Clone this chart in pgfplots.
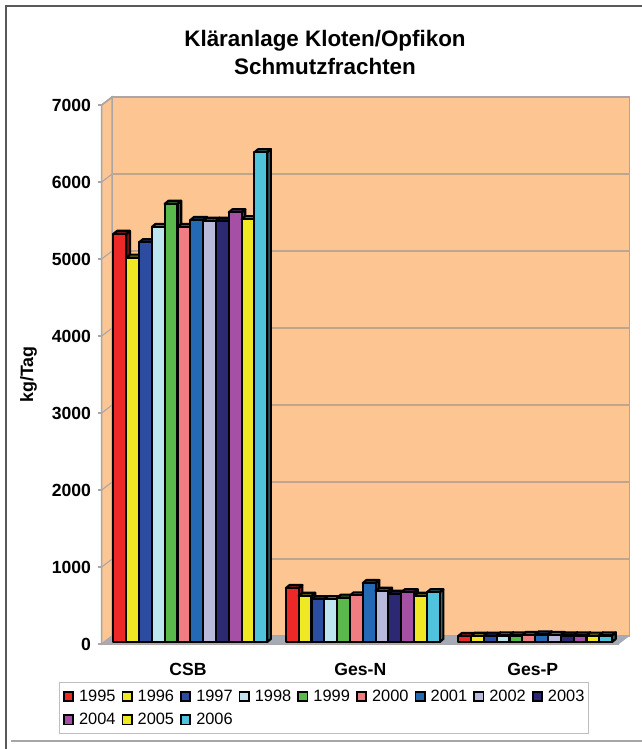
\documentclass[border=0pt]{standalone}
\usepackage{fontspec}
\setmainfont{Liberation Sans}
\usepackage{pgfplots}
\pgfplotsset{compat=1.18}

\definecolor{wall}{RGB}{252,197,146}
\definecolor{wallline}{RGB}{172,165,165}
\definecolor{gridtan}{RGB}{190,165,140}
\definecolor{floorgray}{RGB}{165,170,180}
\definecolor{c95}{RGB}{237,41,40}
\definecolor{c96}{RGB}{240,232,35}
\definecolor{c97}{RGB}{44,76,160}
\definecolor{c98}{RGB}{190,228,240}
\definecolor{c99}{RGB}{90,185,75}
\definecolor{c00}{RGB}{240,125,130}
\definecolor{c01}{RGB}{35,105,180}
\definecolor{c02}{RGB}{185,185,220}
\definecolor{c03}{RGB}{45,40,115}
\definecolor{c04}{RGB}{165,80,165}
\definecolor{c05}{RGB}{240,232,35}
\definecolor{c06}{RGB}{80,195,220}

% depth of the chart and of the bars, in axis units
\def\wdx{0.0608}\def\wdy{104}
\def\bw{0.07433}\def\bdx{0.0215}\def\bdy{40}\def\ybase{26}\def\gstart{0.068}

% one bar: left edge, value, colour (side, top, then front)
\newcommand{\barone}[3]{%
  \pgfmathsetmacro\xa{#1}%
  \pgfmathsetmacro\xb{#1+\bw}%
  \pgfmathsetmacro\xc{#1+\bw+\bdx}%
  \pgfmathsetmacro\xd{#1+\bdx}%
  \pgfmathsetmacro\yt{#2+\ybase}%
  \pgfmathsetmacro\ytt{#2+\ybase+\bdy}%
  \pgfmathsetmacro\ybb{\ybase+\bdy}%
  \edef\tmp{\noexpand\addplot[barface,fill=#3!55!black,forget plot] coordinates {(\xb,\ybase)(\xc,\ybb)(\xc,\ytt)(\xb,\yt)} --cycle;
    \noexpand\addplot[barface,fill=#3!55!black,forget plot] coordinates {(\xa,\yt)(\xd,\ytt)(\xc,\ytt)(\xb,\yt)} --cycle;
    \noexpand\addplot[barface,fill=#3,forget plot] coordinates {(\xa,\ybase)(\xb,\ybase)(\xb,\yt)(\xa,\yt)} --cycle;}%
  \tmp}
% one year: position in the group, colour, CSB, Ges-N, Ges-P
\newcommand{\yearbars}[5]{%
  \pgfmathsetmacro\xu{\gstart+#1*\bw}\barone{\xu}{#3}{#2}%
  \pgfmathsetmacro\xu{1+\gstart+#1*\bw}\barone{\xu}{#4}{#2}%
  \pgfmathsetmacro\xu{2+\gstart+#1*\bw}\barone{\xu}{#5}{#2}}
\newcommand{\gridat}[1]{%
  \pgfmathsetmacro\ya{#1+\wdy}\pgfmathsetmacro\xr{3+\wdx}%
  \edef\tmp{\noexpand\addplot[wallline,line width=0.8pt,forget plot] coordinates {(0,#1)(\wdx,\ya)};
    \noexpand\addplot[gridtan,line width=0.8pt,forget plot] coordinates {(\wdx,\ya)(\xr,\ya)};}%
  \tmp}
\newcommand{\legitem}[2]{%
  \addlegendimage{legend image code/.code={\draw[black,line width=1.3pt,fill=#1] (0pt,-3.6pt) rectangle (7pt,3.6pt);}}
  \addlegendentry{#2}}

\begin{document}
\begin{tikzpicture}[x=0.75pt,y=0.75pt]
\useasboundingbox (0,0) rectangle (642,749);
\fill[white] (0,0) rectangle (642,749);
\draw[black!65,line width=1pt] (642,743) -- (6,743) -- (6,0);
\draw[black!35,line width=0.8pt] (11,8) -- (642,8);

\begin{axis}[
  at={(76.275pt,78.75pt)},anchor=south west,
  scale only axis,
  width=387.98pt,height=404.25pt,
  xmin=0,xmax=3,ymin=0,ymax=7000,
  clip=false,
  axis y line=left,axis x line=bottom,
  axis line style={-,draw=wallline,line width=1pt},
  tick style={wallline,line width=1pt},
  major tick length=6pt,
  ytick={0,1000,2000,3000,4000,5000,6000,7000},
  xtick={0.5,1.5,2.5},
  xticklabels={CSB,Ges-N,Ges-P},
  x tick style={draw=none},
  minor xtick={0,1,2,3},
  minor x tick style={wallline,line width=1pt},
  minor tick length=6pt,
  x tick label style={yshift=-8pt},
  y tick label style={xshift=-1.5pt},
  tick label style={font=\fontsize{13.2}{14}\selectfont\bfseries},
  /pgf/number format/assume math mode=true,
  /pgf/number format/1000 sep={},
  ylabel={kg/Tag},
  ylabel style={font=\fontsize{13.4}{14}\selectfont\bfseries,at={(axis description cs:-0.116,0.5)},anchor=south},
  title={Kläranlage Kloten/Opfikon\\Schmutzfrachten},
  title style={font=\fontsize{16.8}{21}\selectfont\bfseries,align=center,at={(axis description cs:0.4317,1.0817)},anchor=center},
  barface/.style={draw=black,line width=1.6pt,line join=round},
  legend columns=9,
  legend cell align=left,
  legend style={
    at={(axis description cs:-0.0825,-0.0705)},anchor=north west,
    draw=black!25,line width=0.8pt,fill=white,
    font=\fontsize{12.3}{14}\selectfont,
    inner xsep=2.5pt,inner ysep=5pt,
    /tikz/every even column/.append style={column sep=3.9pt},
    /tikz/row sep=6.6pt,
    /tikz/column sep=3.2pt,
    nodes={inner xsep=0.6pt,inner ysep=0.4pt},
  },
]
% walls and floor
\addplot[fill=wall,draw=wallline,line width=1.1pt,forget plot] coordinates {(\wdx,\wdy)(3.0608,\wdy)(3.0608,7104)(\wdx,7104)} --cycle;
\addplot[fill=wall,draw=wallline,line width=1.1pt,forget plot] coordinates {(0,0)(\wdx,\wdy)(\wdx,7104)(0,7000)} --cycle;
\addplot[fill=floorgray,draw=none,forget plot] coordinates {(0,0)(3,0)(3.0608,\wdy)(\wdx,\wdy)} --cycle;
\gridat{1000}\gridat{2000}\gridat{3000}\gridat{4000}\gridat{5000}\gridat{6000}
\addplot[wallline,line width=1.1pt,forget plot] coordinates {(0,7000)(\wdx,7104)};

% year, colour, CSB, Ges-N, Ges-P (kg/Tag)
\yearbars{0}{c95}{5300}{700}{78}
\yearbars{1}{c96}{4990}{600}{80}
\yearbars{2}{c97}{5190}{555}{82}
\yearbars{3}{c98}{5390}{555}{85}
\yearbars{4}{c99}{5690}{575}{85}
\yearbars{5}{c00}{5390}{605}{92}
\yearbars{6}{c01}{5480}{765}{98}
\yearbars{7}{c02}{5470}{665}{90}
\yearbars{8}{c03}{5470}{625}{85}
\yearbars{9}{c04}{5580}{645}{85}
\yearbars{10}{c05}{5490}{600}{82}
\yearbars{11}{c06}{6360}{645}{85}

\legitem{c95}{1995}\legitem{c96}{1996}\legitem{c97}{1997}\legitem{c98}{1998}
\legitem{c99}{1999}\legitem{c00}{2000}\legitem{c01}{2001}\legitem{c02}{2002}
\legitem{c03}{2003}\legitem{c04}{2004}\legitem{c05}{2005}\legitem{c06}{2006}
\end{axis}
\end{tikzpicture}
\end{document}
